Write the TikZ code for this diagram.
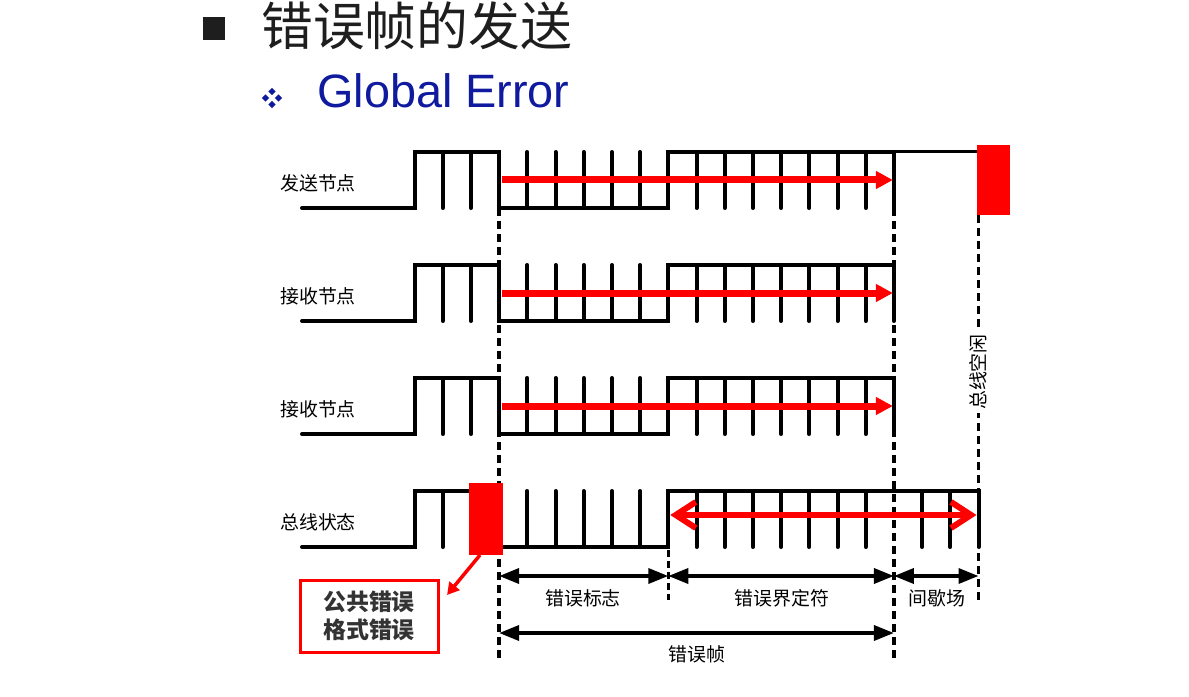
\documentclass[tikz,border=0pt]{standalone}
\usepackage{fontspec}
\newfontfamily\cjk{Noto Sans CJK SC}
\newfontfamily\arialf{Liberation Sans}
\usetikzlibrary{arrows.meta}
\definecolor{titlegray}{HTML}{1E1E1E}
\definecolor{gblue}{HTML}{0F1A9E}
\definecolor{boxtext}{HTML}{333333}
\def\bx{414.5}
\def\bw{28.2}
\newcommand\nodesig[1]{%
  \draw[sig] (302,#1+56) -- (\bx,#1+56) -- (\bx,#1) -- ({\bx+3*\bw},#1) -- ({\bx+3*\bw},#1+56)
     -- ({\bx+9*\bw},#1+56) -- ({\bx+9*\bw},#1) -- ({\bx+17*\bw},#1) -- ({\bx+17*\bw},#1+56);
  \foreach \k in {1,2,10,11,12,13,14,15,16} \draw[sig] ({\bx+\k*\bw},#1) -- ({\bx+\k*\bw},#1+56);
  \foreach \k in {4,5,6,7,8} \draw[sig] ({\bx+\k*\bw},#1+56) -- ({\bx+\k*\bw},#1);
  \draw[redarr] (502,#1+28) -- ({\bx+17*\bw-1},#1+28);
}
\begin{document}
\begin{tikzpicture}[x=1bp,y=-1bp,
  sig/.style={line width=4bp, line cap=round, line join=miter},
  vdash/.style={line width=3.5bp, dash pattern=on 8bp off 5bp},
  redarr/.style={red, line width=7bp, -{Triangle[length=17bp,width=17bp]}},
  dimarr/.style={line width=3.5bp, {Triangle[length=20bp,width=15bp]}-{Triangle[length=20bp,width=15bp]}},
  lbl/.style={font=\cjk\fontsize{19}{19}\selectfont, inner sep=0pt},
]
\useasboundingbox (0,0) rectangle (1189,697);
\fill[white] (0,0) rectangle (1189,697);

% title
\fill[titlegray] (203,17) rectangle (225,40);
\node[font=\cjk\fontsize{52}{52}\selectfont, text=titlegray, anchor=west, inner sep=0pt] (title) at (261,26) {错误帧的发送};
\foreach \dx/\dy in {0/-6.5, 0/6.5, -6.5/0, 6.5/0}
  \fill[gblue] (272+\dx,98+\dy) +(0,-3.6) -- +(3.6,0) -- +(0,3.6) -- +(-3.6,0) -- cycle;
\node[font=\arialf\fontsize{47}{47}\selectfont, text=gblue, anchor=base west, inner sep=0pt] (sub) at (317,108) {Global Error};

% dashed guide lines
\draw[vdash] ({\bx+3*\bw},208) -- ({\bx+3*\bw},662);
\draw[vdash] ({\bx+17*\bw},208) -- ({\bx+17*\bw},662);
\draw[vdash] ({\bx+20*\bw},215) -- ({\bx+20*\bw},600);
\node[lbl, rotate=90, fill=white, inner sep=3bp] (idle) at ({\bx+20*\bw},372) {总线空闲};

% row labels
\node[lbl] (tx)  at (318,183) {发送节点};
\node[lbl] (rx1) at (318,296) {接收节点};
\node[lbl] (rx2) at (318,409) {接收节点};
\node[lbl] (bus) at (318,522) {总线状态};

% rows 1-3
\nodesig{152}
\nodesig{265}
\nodesig{378}
\draw[line width=3bp] ({\bx+17*\bw},152) -- (978,152);
\node[fill=red, inner sep=0pt, minimum width=33bp, minimum height=70bp] (eofbit) at (993.5,180) {};

% row 4 (bus)
\draw[sig] (302,547) -- (\bx,547) -- (\bx,491) -- (470,491);
\draw[sig] ({\bx+\bw},491) -- ({\bx+\bw},547);
\draw[sig] ({\bx+3*\bw},547) -- ({\bx+9*\bw},547) -- ({\bx+9*\bw},491) -- ({\bx+20*\bw},491) -- ({\bx+20*\bw},547);
\foreach \k in {4,5,6,7,8} \draw[sig] ({\bx+\k*\bw},547) -- ({\bx+\k*\bw},491);
\foreach \k in {10,11,12,13,14,15,16,18,19} \draw[sig] ({\bx+\k*\bw},491) -- ({\bx+\k*\bw},547);
\node[fill=red, inner sep=0pt, minimum width=34bp, minimum height=72bp] (errbit) at (486,519) {};
\draw[red, line width=6bp, {Straight Barb[length=20bp,width=26bp]}-{Straight Barb[length=20bp,width=26bp]}]
  ({\bx+9*\bw+2},515) -- ({\bx+20*\bw-2},515);

% error box
\node[draw=red, line width=3bp, minimum width=138bp, minimum height=72bp, align=center,
      font=\cjk\bfseries\fontsize{23}{28}\selectfont, text=boxtext] (errbox) at (369,616) {公共错误\\格式错误};
\coordinate (pa) at (480,555);
\coordinate (pb) at (447,595);
\draw[red, line width=3.5bp, -{Triangle[length=12bp,width=13bp]}] (pa) -- (pb);

% dimension arrows
\coordinate (d0) at ({\bx+3*\bw},576);
\coordinate (d1) at ({\bx+9*\bw},576);
\coordinate (d2) at ({\bx+17*\bw},576);
\coordinate (d3) at ({\bx+20*\bw},576);
\coordinate (f0) at ({\bx+3*\bw},633);
\coordinate (f1) at ({\bx+17*\bw},633);
\draw[dimarr] (d0) -- (d1);
\draw[dimarr] (d1) -- (d2);
\draw[dimarr] (d2) -- (d3);
\draw[dimarr] (f0) -- (f1);
\draw[vdash, dash pattern=on 7bp off 4bp] ({\bx+9*\bw},550) -- ({\bx+9*\bw},600);
\node[lbl] (flag)  at (583,598) {错误标志};
\node[lbl] (delim) at (782,598) {错误界定符};
\node[lbl] (inter) at (937,598) {间歇场};
\node[lbl] (frame) at (697,654) {错误帧};
\end{tikzpicture}
\end{document}
